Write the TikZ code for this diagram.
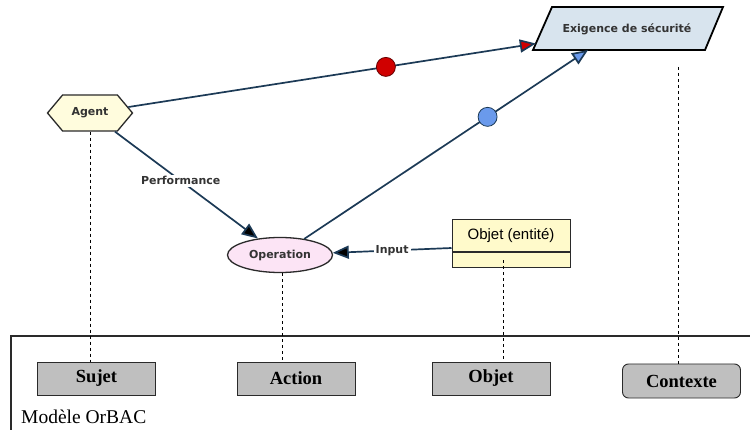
\documentclass[tikz,border=0pt]{standalone}
\usepackage{fontspec}
\setmainfont{Liberation Serif}
\newfontfamily\dvs{DejaVu Sans}
\newfontfamily\lsans{Liberation Sans}
\usetikzlibrary{shapes.geometric,shapes.symbols,arrows.meta,calc}
\definecolor{linec}{HTML}{1C3A56}
\definecolor{bordc}{HTML}{2A2A2A}
\definecolor{agentfill}{HTML}{FFFCDD}
\definecolor{objfill}{HTML}{FFFACB}
\definecolor{exigfill}{HTML}{D8E4EE}
\definecolor{operfill}{HTML}{FCE4F5}
\definecolor{boxgray}{HTML}{BFBFBF}
\definecolor{redc}{HTML}{D00000}
\definecolor{bluec}{HTML}{6A9AEC}
\definecolor{txtc}{HTML}{333333}
\tikzset{
  lbl/.style={font=\dvs\bfseries\fontsize{11}{13}\selectfont, text=txtc},
  conn/.style={draw=linec, line width=1.7pt},
  blackhead/.style={-{Triangle[length=16pt,width=13pt,fill=black]}},
  dot/.style={circle, draw, line width=0.8pt, minimum width=19pt, minimum height=19pt, inner sep=0pt},
  graybox/.style={draw=bordc, line width=0.9pt, fill=boxgray, minimum width=118pt, minimum height=33pt,
    font=\bfseries\fontsize{18.5}{21}\selectfont},
  vdash/.style={draw=black, line width=0.7pt, dash pattern=on 3pt off 3pt}
}
\begin{document}
\begin{tikzpicture}[x=1pt,y=-1pt]
\useasboundingbox (0,0) rectangle (750,430);
\fill[white] (0,0) rectangle (750,430);

% parallelogram "Exigence de sécurité"
\coordinate (exBL) at (533,50);
\coordinate (exTL) at (552,7);
\coordinate (exTR) at (723,7);
\coordinate (exBR) at (705,50);
\filldraw[draw=black, line width=1.8pt, fill=exigfill, line join=miter] (exBL) -- (exTL) -- (exTR) -- (exBR) -- cycle;
\node[lbl, inner sep=0pt] (exig) at (627,29.5) {Exigence de sécurité};

% main shapes
\node[signal, signal to=west and east, signal pointer angle=100, draw=bordc, line width=1.3pt,
  fill=agentfill, minimum width=85pt, minimum height=36pt, inner sep=0pt, lbl] (agent) at (90,113) {Agent};
\node[ellipse, draw=bordc, line width=1.3pt, fill=operfill, minimum width=105pt, minimum height=35pt,
  inner sep=0pt, lbl] (oper) at (280,255) {Operation};
\node[rectangle, draw=bordc, line width=1pt, fill=objfill, minimum width=118pt, minimum height=32pt,
  inner sep=0pt, font=\lsans\fontsize{15}{17}\selectfont, text=black] (objet) at (511,236) {Objet (entité)};
\node[rectangle, draw=bordc, line width=1pt, fill=objfill, minimum width=118pt, minimum height=15pt,
  inner sep=0pt, anchor=north] (objetb) at (objet.south) {};

% connectors
\draw[conn, -{Triangle[length=16pt,width=13pt,fill=redc]}] (agent) --
  node[dot, pos=0.632, fill=redc, draw=red!40!black] (reddot) {}
  ($(exBL)!0.15!(exTL)$);
\draw[conn, -{Triangle[length=16pt,width=13pt,fill=bluec]}] (oper) --
  node[dot, pos=0.646, fill=bluec, draw=linec] (bluedot) {}
  ($(exBL)!0.32!(exBR)$);
\draw[conn, blackhead] (agent) -- node[pos=0.46, fill=white, inner sep=2pt, lbl] (perf) {Performance} (oper);
\draw[conn, blackhead] ([yshift=-12pt]objet.west) -- node[pos=0.5, fill=white, inner sep=2pt, lbl] (inp) {Input} (oper);

% OrBAC frame
\coordinate (fbl) at (11,430);
\coordinate (ftl) at (11,336);
\coordinate (ftr) at (750,336);
\draw[bordc, line width=1.3pt] (fbl) -- (ftl) -- (ftr);

\node[graybox] (sujet) at (96.5,378.5) {Sujet};
\node[graybox] (action) at (296,378.5) {Action};
\node[graybox] (objet2) at (491,378.5) {Objet};
\node[graybox, rounded corners=6pt, minimum height=34pt] (ctx) at (681.5,381) {Contexte};
\node[anchor=west, font=\fontsize{19.5}{22}\selectfont, inner sep=0pt] (modele) at (21,417) {Modèle OrBAC};

% dashed links
\draw[vdash] (agent.south) -- (agent.south |- sujet.north);
\draw[vdash] ([xshift=2pt]oper.south) -- ([xshift=2pt]oper.south |- action.north);
\draw[vdash] ([xshift=-8pt]objetb.center) -- ([xshift=-8pt]objetb.center |- objet2.north);
\coordinate (ctxtop) at (678,67);
\draw[vdash] (ctxtop) -- (ctxtop |- ctx.north);
\end{tikzpicture}
\end{document}
